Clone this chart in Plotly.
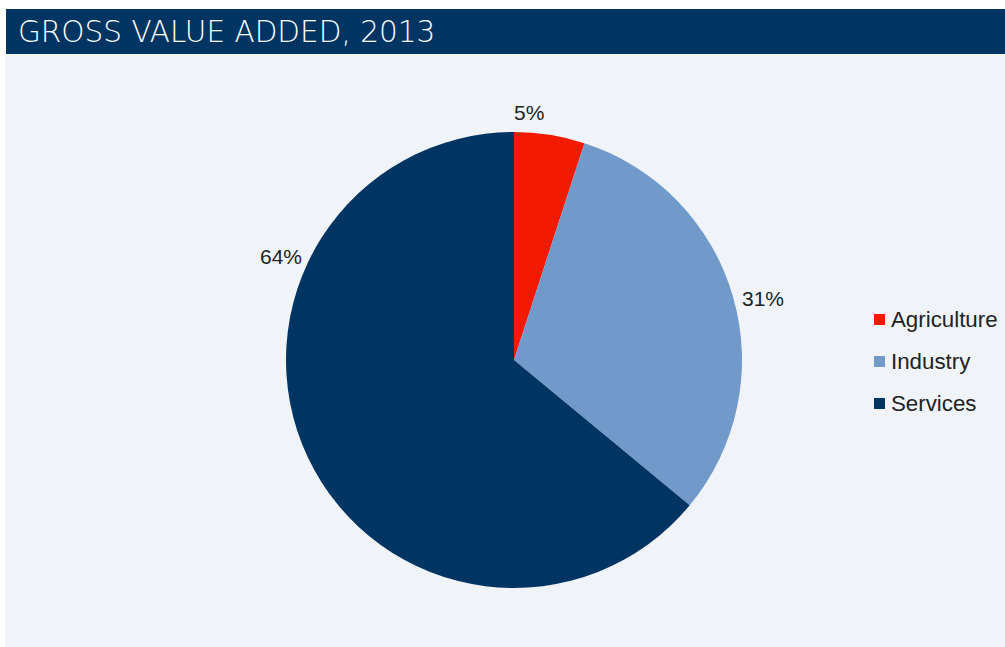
import plotly.graph_objects as go

# Gross value added by sector, 2013 (share of total, %)
sectors = ["Agriculture", "Industry", "Services"]
shares = [5, 31, 64]
colors = ["#F21A00", "#7199C9", "#003462"]

TITLE = "GROSS VALUE ADDED, 2013"
W, H = 1005, 647


def px(x):
    return x / W


def py(y):
    return 1 - y / H


fig = go.Figure()

fig.add_trace(go.Pie(
    labels=sectors,
    values=shares,
    marker=dict(colors=colors, line=dict(width=0)),
    sort=False,
    direction="clockwise",
    rotation=0,
    textinfo="none",
    hoverinfo="label+percent",
    showlegend=False,
    domain=dict(x=[px(286), px(742)], y=[py(588), py(132)]),
))

shapes = [
    # panel background
    dict(type="rect", xref="paper", yref="paper",
         x0=px(5), x1=1, y0=0, y1=py(54),
         fillcolor="#F0F4F8", line=dict(width=0), layer="below"),
    # title bar
    dict(type="rect", xref="paper", yref="paper",
         x0=px(6), x1=1, y0=py(54), y1=py(9),
         fillcolor="#003462", line=dict(width=0), layer="below"),
]

annotations = [
    dict(text=TITLE, xref="paper", yref="paper", x=px(16), y=py(32),
         xanchor="left", yanchor="middle", showarrow=False,
         font=dict(family="DejaVu Sans", weight=200, size=29.5, color="white")),
]

# percentage labels placed around the pie
label_pos = [(529, 113), (763, 298), (281, 256)]
for v, (lx, ly) in zip(shares, label_pos):
    annotations.append(dict(
        text=f"{v}%", xref="paper", yref="paper", x=px(lx), y=py(ly),
        xanchor="center", yanchor="middle", showarrow=False,
        font=dict(family="Liberation Sans, Arial", size=21, color="#222222")))

# legend entries
for i, (name, c) in enumerate(zip(sectors, colors)):
    yc = 319 + 42 * i
    shapes.append(dict(type="rect", xref="paper", yref="paper",
                       x0=px(874), x1=px(885), y0=py(yc + 6), y1=py(yc - 5),
                       fillcolor=c, line=dict(width=0)))
    annotations.append(dict(
        text=name, xref="paper", yref="paper", x=px(889), y=py(yc),
        xanchor="left", yanchor="middle", showarrow=False,
        font=dict(family="Liberation Sans, Arial", size=22.3, color="#222222")))

fig.update_layout(
    width=W, height=H,
    margin=dict(l=0, r=0, t=0, b=0),
    paper_bgcolor="white",
    shapes=shapes,
    annotations=annotations,
)

fig.write_html("out.html")
